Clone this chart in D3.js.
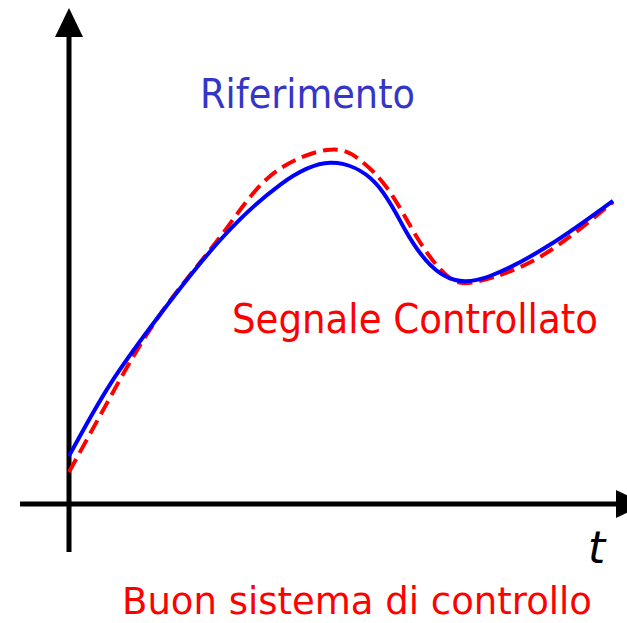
<!DOCTYPE html>
<meta charset="utf-8">
<head>
    <style>
        body { margin: 0; background: #fff; }
        text { font-family: 'DejaVu Sans', Tahoma, sans-serif; }
    </style>
</head>
<body>
    <svg width="627" height="623"></svg>

    <script src="https://d3js.org/d3.v7.min.js"></script>
    <script type="text/javascript">

        // reference signal (blue)
        var refT = [0, 0.75, 1.67, 2.78, 3.88, 4.8, 5.63, 6.18, 6.64, 7.1, 7.74, 8.84, 10];
        var refV = [1.2, 2.98, 4.73, 6.6, 7.98, 8.53, 8.03, 6.85, 5.98, 5.6, 5.7, 6.48, 7.58];

        // controlled signal (red dashed)
        var outT = [0, 0.75, 1.67, 2.78, 3.7, 4.74, 5.35, 5.9, 6.45, 7.0, 7.56, 8.66, 10];
        var outV = [0.8, 2.65, 4.73, 6.68, 8.2, 8.85, 8.6, 7.8, 6.55, 5.65, 5.58, 6.18, 7.55];

        var labels = ["Riferimento", "Segnale Controllato", "Buon sistema di controllo"];
        var axisLabel = "t";

        var svg = d3.select("svg");

        var x = d3.scaleLinear().domain([0, 10]).range([69, 613]);
        var y = d3.scaleLinear().domain([0, 10]).range([504, 104]);

        var line = d3.line()
            .x(function (d) { return x(d[0]); })
            .y(function (d) { return y(d[1]); })
            .curve(d3.curveNatural);

        // axes
        svg.append("line")
            .attr("x1", 20).attr("y1", y(0))
            .attr("x2", 618).attr("y2", y(0))
            .attr("stroke", "#000").attr("stroke-width", 5);
        svg.append("path")
            .attr("d", "M616,490 L645,504 L616,518 Z")
            .attr("fill", "#000");

        svg.append("line")
            .attr("x1", x(0)).attr("y1", 552)
            .attr("x2", x(0)).attr("y2", 34)
            .attr("stroke", "#000").attr("stroke-width", 5);
        svg.append("path")
            .attr("d", "M55,37 L69,8 L83,37 Z")
            .attr("fill", "#000");

        // curves
        svg.append("path")
            .datum(d3.zip(outT, outV))
            .attr("fill", "none")
            .attr("stroke", "#ff0000")
            .attr("stroke-width", 4)
            .attr("stroke-dasharray", "15,7")
            .attr("d", line);

        svg.append("path")
            .datum(d3.zip(refT, refV))
            .attr("fill", "none")
            .attr("stroke", "#0000ff")
            .attr("stroke-width", 4)
            .attr("d", line);

        // texts
        svg.append("text")
            .attr("x", 200).attr("y", 108)
            .attr("font-size", 40)
            .attr("fill", "#3535c8")
            .attr("textLength", 215).attr("lengthAdjust", "spacingAndGlyphs")
            .text(labels[0]);

        svg.append("text")
            .attr("x", 232).attr("y", 333)
            .attr("font-size", 40)
            .attr("fill", "#ff0000")
            .attr("textLength", 366).attr("lengthAdjust", "spacingAndGlyphs")
            .text(labels[1]);

        svg.append("text")
            .attr("x", 122).attr("y", 614)
            .attr("font-size", 37)
            .attr("fill", "#ff0000")
            .attr("textLength", 470).attr("lengthAdjust", "spacingAndGlyphs")
            .text(labels[2]);

        svg.append("text")
            .attr("x", 588).attr("y", 563)
            .attr("font-size", 44)
            .attr("font-style", "italic")
            .attr("fill", "#000")
            .text(axisLabel);

    </script>
</body>
